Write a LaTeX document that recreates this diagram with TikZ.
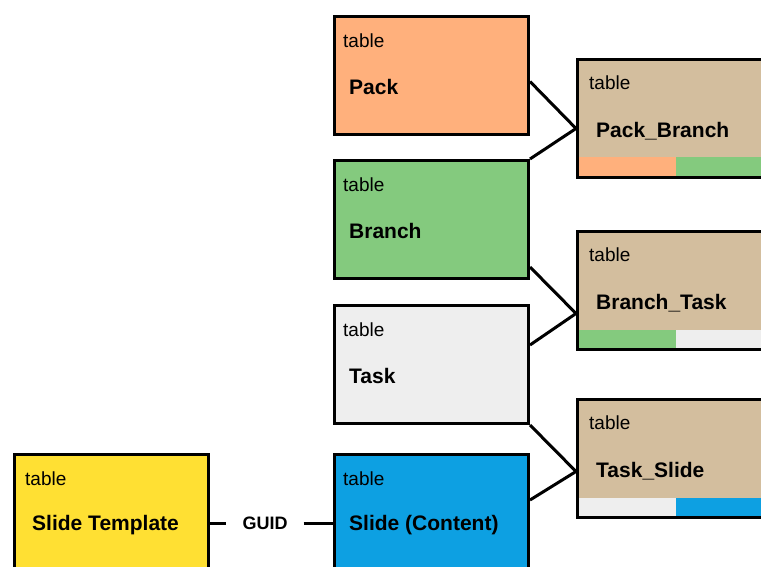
\documentclass[tikz,border=0pt]{standalone}
\usepackage{fontspec}
\setmainfont{Liberation Sans}
\usepackage{xcolor}
\usepackage{tikz}
\usetikzlibrary{positioning,calc}

\definecolor{packc}{HTML}{FFB07C}
\definecolor{branchc}{HTML}{84CA7E}
\definecolor{taskc}{HTML}{EEEEEE}
\definecolor{slidec}{HTML}{0DA0E2}
\definecolor{tmplc}{HTML}{FFE033}
\definecolor{joinc}{HTML}{D3BE9E}

\begin{document}
\begin{tikzpicture}[
  x=1pt, y=1pt,
  tbox/.style={rectangle, draw, line width=3pt, anchor=north west, minimum width=194pt, minimum height=118pt},
  jointab/.style 2 args={tbox, fill=joinc, minimum width=220pt,
    path picture={
      \fill[#1] (path picture bounding box.south west) rectangle ++(98pt,20pt);
      \fill[#2] ($(path picture bounding box.south west)+(98pt,0pt)$) rectangle ++(200pt,20pt);
    }},
  tag/.style={anchor=west, inner sep=0pt, font=\fontsize{19}{22}\selectfont},
  tname/.style={anchor=west, inner sep=0pt, font=\fontsize{21}{24}\selectfont\bfseries},
  link/.style={line width=3pt}
]
\path[use as bounding box, clip] (0,0) rectangle (761,566);

% source tables
\node[tbox, fill=packc] (pack) at (333,551) {};
\node[tag] at ([shift={(10pt,-26pt)}]pack.north west) {table};
\node[tname] at ([shift={(16pt,-72pt)}]pack.north west) {Pack};

\node[tbox, fill=branchc] (branch) at (333,407) {};
\node[tag] at ([shift={(10pt,-26pt)}]branch.north west) {table};
\node[tname] at ([shift={(16pt,-72pt)}]branch.north west) {Branch};

\node[tbox, fill=taskc] (task) at (333,262) {};
\node[tag] at ([shift={(10pt,-26pt)}]task.north west) {table};
\node[tname] at ([shift={(16pt,-72pt)}]task.north west) {Task};

\node[tbox, fill=slidec] (slide) at (333,113) {};
\node[tag] at ([shift={(10pt,-26pt)}]slide.north west) {table};
\node[tname] at ([shift={(16pt,-72pt)}]slide.north west) {Slide (Content)};

\node[tbox, fill=tmplc] (tmpl) at (13,113) {};
\node[tag] at ([shift={(12pt,-26pt)}]tmpl.north west) {table};
\node[tname] at ([shift={(19pt,-72pt)}]tmpl.north west) {Slide Template};

% join tables
\node[jointab={packc}{branchc}] (pb) at (576,508) {};
\node[tag] at ([shift={(13pt,-25pt)}]pb.north west) {table};
\node[tname] at ([shift={(20pt,-73pt)}]pb.north west) {Pack\_Branch};

\node[jointab={branchc}{taskc}] (bt) at (576,336) {};
\node[tag] at ([shift={(13pt,-25pt)}]bt.north west) {table};
\node[tname] at ([shift={(20pt,-73pt)}]bt.north west) {Branch\_Task};

\node[jointab={taskc}{slidec}] (ts) at (576,168) {};
\node[tag] at ([shift={(13pt,-25pt)}]ts.north west) {table};
\node[tname] at ([shift={(20pt,-73pt)}]ts.north west) {Task\_Slide};

% links
\coordinate (pbIn) at ([yshift=-10pt]pb.west);
\coordinate (btIn) at ([yshift=-23pt]bt.west);
\coordinate (tsIn) at ([yshift=-13pt]ts.west);

\draw[link] ([yshift=-6pt]pack.east) -- (pbIn);
\draw[link] (branch.north east) -- (pbIn);
\draw[link] ([yshift=13pt]branch.south east) -- (btIn);
\draw[link] ([yshift=-41pt]task.north east) -- (btIn);
\draw[link] (task.south east) -- (tsIn);
\draw[link] ([yshift=-47pt]slide.north east) -- (tsIn);

\node[inner xsep=16pt, font=\fontsize{18}{21}\selectfont\bfseries] (guid) at (265,43) {GUID};
\draw[link] (tmpl.east |- guid) -- (guid);
\draw[link] (guid) -- (slide.west |- guid);

\end{tikzpicture}
\end{document}
